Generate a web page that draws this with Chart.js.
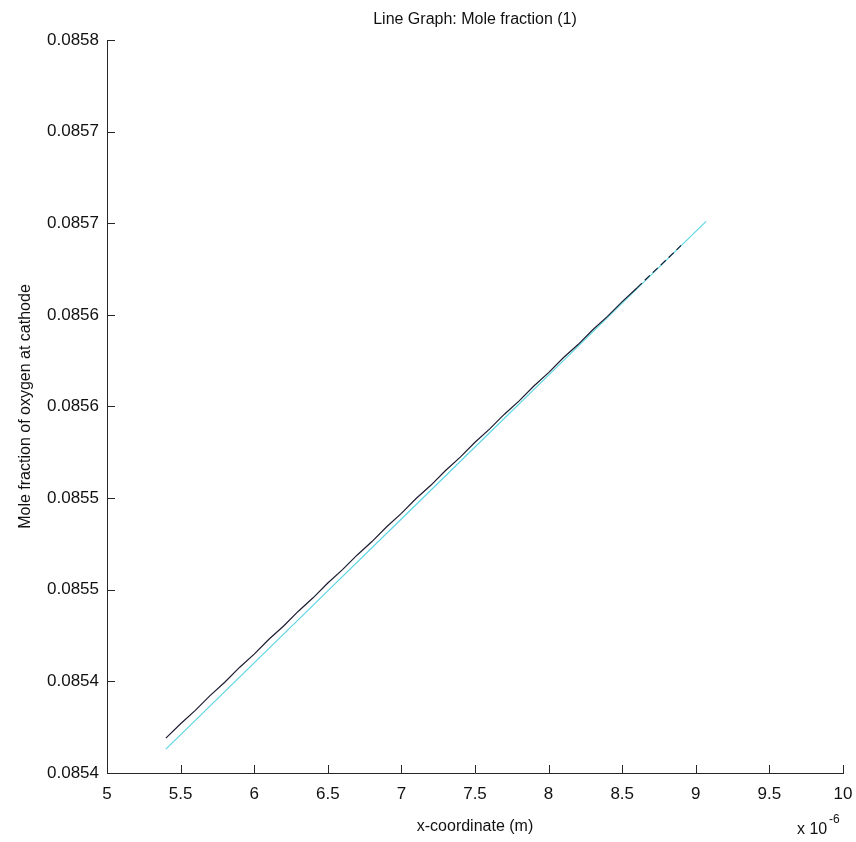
<!DOCTYPE html>
<html>
<head>
<meta charset="utf-8">
<script src="https://cdn.jsdelivr.net/npm/chart.js@4/dist/chart.umd.min.js"></script>
<style>
  html, body { margin: 0; padding: 0; background: #fff; }
  #wrap { width: 856px; height: 842px; }
</style>
</head>
<body>
<div id="wrap"><canvas id="moleChart"></canvas></div>
<script>
// x values are in units of 1e-6 m (axis shows "x 10^-6")
const xBlack = [5.4, 5.5, 5.6, 5.7, 5.8, 5.9, 6.0, 6.1, 6.2, 6.3, 6.4, 6.5, 6.6, 6.7, 6.8, 6.9,
  7.0, 7.1, 7.2, 7.3, 7.4, 7.5, 7.6, 7.7, 7.8, 7.9, 8.0, 8.1, 8.2, 8.3, 8.4, 8.5, 8.6, 8.7, 8.8, 8.9];
const yBlack = [0.0854190, 0.0854269, 0.0854342, 0.0854422, 0.0854495, 0.0854576, 0.0854649, 0.0854730,
  0.0854802, 0.0854883, 0.0854956, 0.0855037, 0.0855110, 0.0855190, 0.0855263, 0.0855344,
  0.0855417, 0.0855498, 0.0855570, 0.0855651, 0.0855724, 0.0855805, 0.0855878, 0.0855958,
  0.0856031, 0.0856112, 0.0856185, 0.0856266, 0.0856338, 0.0856419, 0.0856492, 0.0856572,
  0.0856647, 0.0856725, 0.0856801, 0.0856879];

const xCyan = [5.4, 6.0, 6.5, 7.0, 7.5, 8.0, 8.5, 9.07];
const yCyan = [0.0854130, 0.0854601, 0.0854994, 0.0855386, 0.0855779, 0.0856171, 0.0856564, 0.0857010];

const xTicks = [5, 5.5, 6, 6.5, 7, 7.5, 8, 8.5, 9, 9.5, 10];
const yTickLabels = ['0.0854', '0.0854', '0.0855', '0.0855', '0.0856', '0.0856', '0.0857', '0.0857', '0.0858'];
const yMin = 0.08540, yStep = 0.00005;

const tickFont = { family: 'Liberation Sans', size: 17 };
const axisColor = '#262626';

// MATLAB style inward ticks, title and exponent label
const matlabBits = {
  id: 'matlabBits',
  afterDraw(chart) {
    const c = chart.ctx;
    const xs = chart.scales.x, ys = chart.scales.y;
    const a = chart.chartArea;
    c.save();
    c.strokeStyle = axisColor;
    c.lineWidth = 1;
    c.beginPath();
    xs.ticks.forEach(t => {
      const px = Math.round(xs.getPixelForValue(t.value)) + 0.5;
      c.moveTo(px, a.bottom);
      c.lineTo(px, a.bottom - 8);
    });
    ys.ticks.forEach(t => {
      const py = Math.round(ys.getPixelForValue(t.value)) + 0.5;
      c.moveTo(a.left, py);
      c.lineTo(a.left + 8, py);
    });
    c.stroke();

    c.fillStyle = '#111';
    c.font = '16px "Liberation Sans"';
    c.textAlign = 'center';
    c.textBaseline = 'middle';
    c.fillText('Line Graph: Mole fraction (1)', (a.left + a.right) / 2, 20);

    c.textAlign = 'left';
    c.textBaseline = 'alphabetic';
    c.font = '16px "Liberation Sans"';
    c.fillText('x 10', 797, 834);
    c.font = '12px "Liberation Sans"';
    c.fillText('-6', 829, 823);
    c.restore();
  }
};

new Chart(document.getElementById('moleChart'), {
  type: 'line',
  data: {
    datasets: [{
      label: 'black',
      data: xBlack.map((x, i) => ({ x: x, y: yBlack[i] })),
      borderColor: '#1c1c30',
      borderWidth: 1.2,
      pointRadius: 0,
      segment: {
        borderDash: ctx => ctx.p0.parsed.x >= 8.6 ? [7, 4] : undefined
      }
    }, {
      label: 'cyan',
      data: xCyan.map((x, i) => ({ x: x, y: yCyan[i] })),
      borderColor: '#5cd6e4',
      borderWidth: 1.2,
      pointRadius: 0
    }]
  },
  options: {
    responsive: true,
    maintainAspectRatio: false,
    animation: false,
    layout: { padding: { top: 40, right: 13, left: 0, bottom: 0 } },
    plugins: {
      legend: { display: false },
      tooltip: { enabled: false }
    },
    scales: {
      x: {
        type: 'linear',
        min: 5,
        max: 10,
        afterBuildTicks: s => { s.ticks = xTicks.map(v => ({ value: v })); },
        afterFit: s => { s.height = 69; s.paddingLeft = 0; s.paddingRight = 0; },
        grid: { display: true, drawOnChartArea: false, drawTicks: false },
        border: { display: true, color: axisColor, width: 1 },
        ticks: {
          color: '#111',
          font: tickFont,
          padding: 11,
          maxRotation: 0,
          callback: v => String(v)
        },
        title: {
          display: true,
          text: 'x-coordinate (m)',
          color: '#111',
          font: { family: 'Liberation Sans', size: 16 },
          padding: { top: 0, bottom: 6 }
        }
      },
      y: {
        type: 'linear',
        min: yMin,
        max: 0.08580,
        afterBuildTicks: s => { s.ticks = yTickLabels.map((l, i) => ({ value: yMin + i * yStep })); },
        afterFit: s => { s.width = 107; s.paddingTop = 0; s.paddingBottom = 0; },
        grid: { display: true, drawOnChartArea: false, drawTicks: false },
        border: { display: true, color: axisColor, width: 1 },
        ticks: {
          color: '#111',
          font: tickFont,
          padding: 8,
          callback: v => yTickLabels[Math.round((v - yMin) / yStep)]
        },
        title: {
          display: true,
          text: 'Mole fraction of oxygen at cathode',
          color: '#111',
          font: { family: 'Liberation Sans', size: 16 },
          padding: { top: 16, bottom: 0 }
        }
      }
    }
  },
  plugins: [matlabBits]
});
</script>
</body>
</html>
